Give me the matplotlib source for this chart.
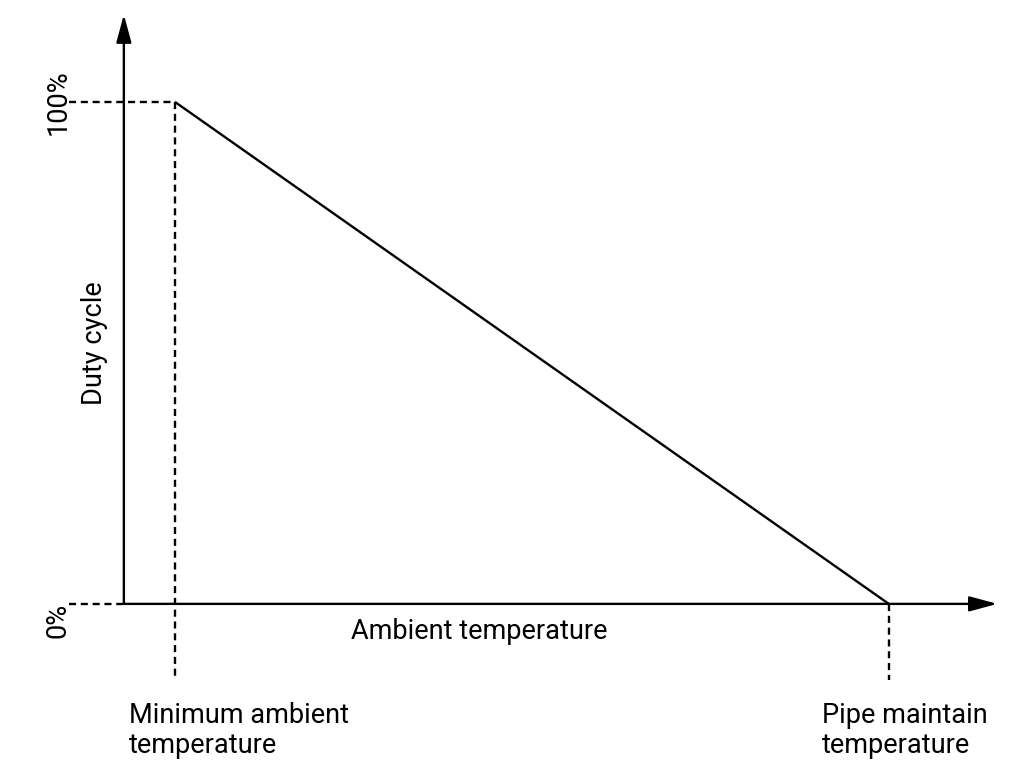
import matplotlib
matplotlib.use('Agg')
import matplotlib.pyplot as plt

plt.rcParams['font.family'] = ['Roboto', 'DejaVu Sans']

# Duty cycle falls linearly from 100% at minimum ambient to 0% at pipe maintain temperature
temperature = [0, 100]          # normalised: min ambient -> pipe maintain
duty_cycle = [100, 0]           # percent
tick_labels = ['100%', '0%']
x_labels = ['Minimum ambient\ntemperature', 'Pipe maintain\ntemperature']

fig = plt.figure(figsize=(10.18, 7.64), dpi=100)
ax = fig.add_axes([0, 0, 1, 1])
ax.set_xlim(-24.5, 118.1)
ax.set_ylim(-31.9, 120.3)
ax.axis('off')

lw = 1.7
fs = 19.5
dash = (0, (3, 2))
x_origin = -7.15
y_origin = 0
arrow = dict(arrowstyle='-|>,head_length=0.85,head_width=0.23',
             lw=lw, color='black', shrinkA=0, shrinkB=0, mutation_scale=20)

# axes with arrows
ax.annotate('', xy=(115.2, y_origin), xytext=(x_origin, y_origin), arrowprops=arrow)
ax.annotate('', xy=(x_origin, 117.4), xytext=(x_origin, y_origin), arrowprops=arrow)

# duty cycle line
ax.plot(temperature, duty_cycle, color='black', lw=lw, solid_capstyle='butt')

# dashed guide lines
ax.plot([-14.9, temperature[0]], [duty_cycle[0]] * 2, color='black', lw=lw, ls=dash)
ax.plot([-14.9, x_origin], [0, 0], color='black', lw=lw, ls=dash)
ax.plot([temperature[0]] * 2, [duty_cycle[0], -15.1], color='black', lw=lw, ls=dash)
ax.plot([temperature[1]] * 2, [0, -15.1], color='black', lw=lw, ls=dash)

# y tick labels
ax.text(-14.5, 100, tick_labels[0], rotation=90, ha='right', va='center', fontsize=fs)
ax.text(-14.5, 0.2, tick_labels[1], rotation=90, ha='right', va='top', fontsize=fs)

ax.text(-11.3, 52, 'Duty cycle', rotation=90, ha='center', va='center', fontsize=fs)
ax.text(42.7, -5.6, 'Ambient temperature', ha='center', va='center', fontsize=fs)

ax.text(-6.4, -19.5, x_labels[0], ha='left', va='top', fontsize=fs, linespacing=1.17)
ax.text(90.6, -19.5, x_labels[1], ha='left', va='top', fontsize=fs, linespacing=1.17)

fig.savefig('out.png', dpi=100)
